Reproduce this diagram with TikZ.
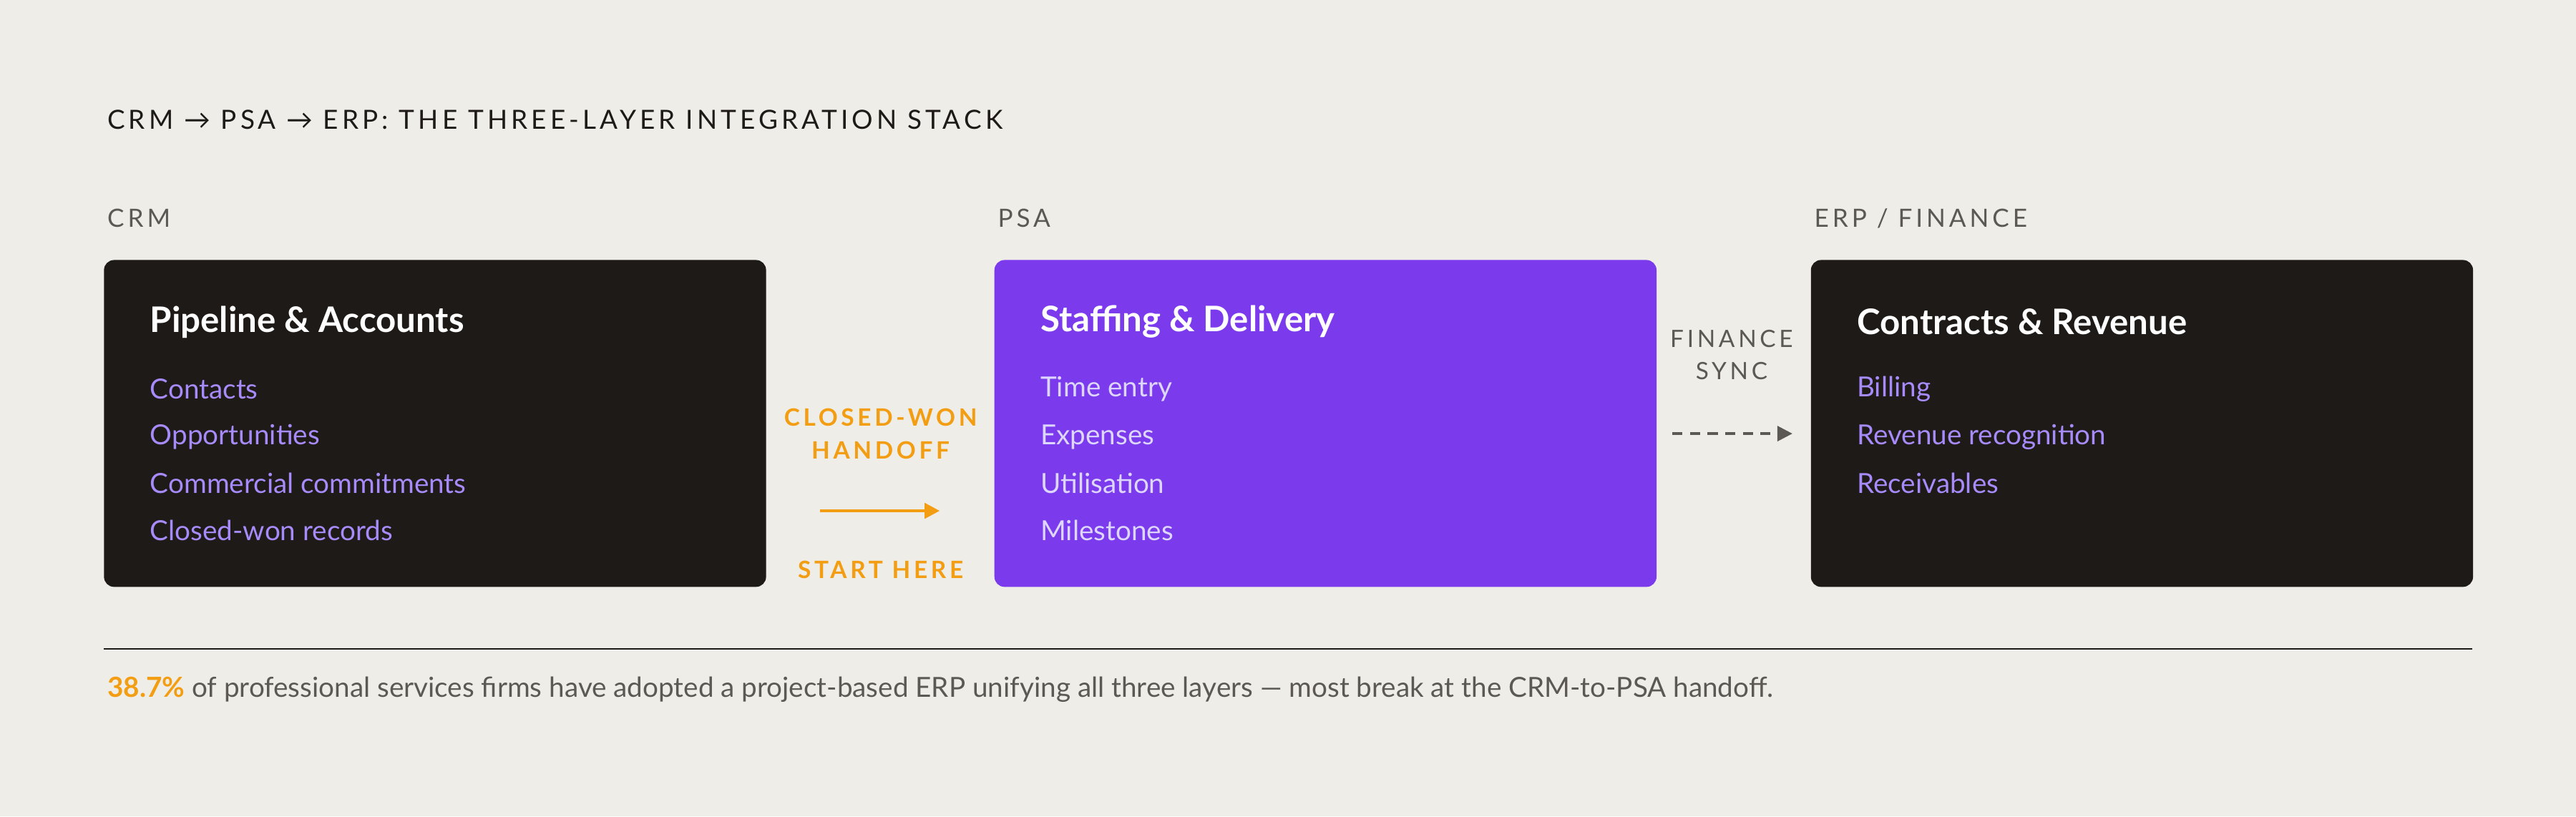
\documentclass[tikz,border=0pt]{standalone}
\usepackage{fontspec}
\setmainfont{Lato}
\usetikzlibrary{positioning,arrows.meta}
\definecolor{paper}{HTML}{EFEDE8}
\definecolor{ink}{HTML}{1E1A17}
\definecolor{violet}{HTML}{7C3AED}
\definecolor{lilac}{HTML}{A78BFA}
\definecolor{pale}{HTML}{DDD6FE}
\definecolor{amber}{HTML}{F29D12}
\definecolor{mute}{HTML}{5C5954}
\newcommand\spaced[1]{{\addfontfeatures{LetterSpace=14}#1}}
\tikzset{
  layer/.style={rounded corners=4pt,minimum width=403*0.02296cm,minimum height=199*0.02296cm,anchor=north west},
  head/.style={anchor=west,font=\fontsize{14}{16}\selectfont\bfseries,text=white},
  item/.style={anchor=west,font=\fontsize{11}{13}\selectfont,text=lilac},
  tag/.style={anchor=west,font=\fontsize{10}{12}\selectfont,text=mute},
  cue/.style={font=\fontsize{9.5}{12}\selectfont\bfseries,text=amber,align=center}
}
\begin{document}
\begin{tikzpicture}[x=0.02296cm,y=-0.02296cm]
\fill[paper] (0,0) rectangle (1568,497);
\node[anchor=west,font=\fontsize{10.5}{12}\selectfont,text=ink] (title) at (60,73)
  {\spaced{CRM → PSA → ERP: THE THREE-LAYER INTEGRATION STACK}};
% three layers
\node[tag] (crmtag) at (60,133) {\spaced{CRM}};
\node[tag] (psatag) at (602,133) {\spaced{PSA}};
\node[tag] (erptag) at (1099,133) {\spaced{ERP / FINANCE}};
\node[layer,fill=ink] (crm) at (63,158) {};
\node[layer,fill=violet] (psa) at (605,158) {};
\node[layer,fill=ink] (erp) at (1102,158) {};
\node[head] (crmhead) at (86,196) {Pipeline \& Accounts};
\node[item] (c1) at (86,237) {Contacts};
\node[item] (c2) at (86,266) {Opportunities};
\node[item] (c3) at (86,294) {Commercial commitments};
\node[item] (c4) at (86,323) {Closed-won records};
\node[head] (psahead) at (628,196) {Staffing \& Delivery};
\node[item,text=pale] (p1) at (628,237) {Time entry};
\node[item,text=pale] (p2) at (628,266) {Expenses};
\node[item,text=pale] (p3) at (628,294) {Utilisation};
\node[item,text=pale] (p4) at (628,323) {Milestones};
\node[head] (erphead) at (1125,196) {Contracts \& Revenue};
\node[item] (e1) at (1125,237) {Billing};
\node[item] (e2) at (1125,266) {Revenue recognition};
\node[item] (e3) at (1125,294) {Receivables};
% handoffs
\node[cue] (handoff) at (536,264) {\spaced{CLOSED-WON}\\[1pt]\spaced{HANDOFF}};
\node[cue] (start) at (536,347) {\spaced{START HERE}};
\coordinate (h0) at (499,311);
\coordinate (h1) at (572,311);
\draw[amber,line width=1.3pt,-{Triangle[length=6pt,width=6pt]}] (h0) -- (h1);
\node[font=\fontsize{9.5}{12}\selectfont,text=mute,align=center] (sync) at (1054,216)
  {\spaced{FINANCE}\\[1pt]\spaced{SYNC}};
\coordinate (s0) at (1018,264);
\coordinate (s1) at (1091,264);
\draw[mute,line width=1pt,dash pattern=on 4pt off 3pt,-{Triangle[length=6pt,width=6pt]}] (s0) -- (s1);
% footnote
\coordinate (r0) at (63,395);
\coordinate (r1) at (1505,395);
\draw[ink,line width=0.7pt] (r0) -- (r1);
\node[anchor=west,font=\fontsize{11}{13}\selectfont,text=mute] (note) at (60,420)
  {\textcolor{amber}{\bfseries 38.7\%} of professional services firms have adopted a project-based ERP unifying all three layers — most break at the CRM-to-PSA handoff.};
\end{tikzpicture}
\end{document}
